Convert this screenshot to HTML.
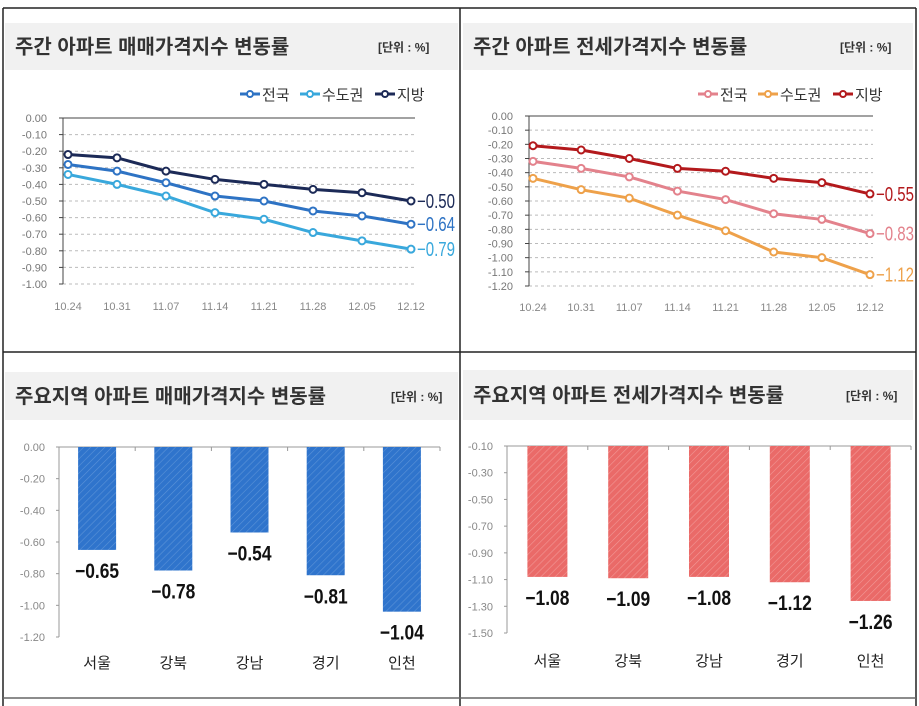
<!DOCTYPE html>
<html><head><meta charset="utf-8">
<style>
body{margin:0;width:919px;height:706px;background:#fff;overflow:hidden;font-family:"Liberation Sans","Noto Sans CJK KR",sans-serif;}
svg{position:absolute;left:0;top:0}
</style></head>
<body>
<svg id="s" width="919" height="706" font-family="Liberation Sans, Noto Sans CJK KR, sans-serif">
<defs>
<pattern id="hb" width="5" height="5" patternUnits="userSpaceOnUse" patternTransform="rotate(45)"><rect width="5" height="5" fill="#2f74cc"/><line x1="0" y1="0" x2="0" y2="5" stroke="#5b93d8" stroke-width="1.2"/></pattern>
<pattern id="hr" width="5" height="5" patternUnits="userSpaceOnUse" patternTransform="rotate(45)"><rect width="5" height="5" fill="#ea6a68"/><line x1="0" y1="0" x2="0" y2="5" stroke="#f29896" stroke-width="1.2"/></pattern>
</defs>
<g stroke="#222" stroke-width="1.5" fill="none">
<line x1="3" y1="8" x2="916" y2="8"/><line x1="3" y1="8" x2="3" y2="706"/><line x1="916" y1="8" x2="916" y2="706"/>
<line x1="460" y1="8" x2="460" y2="706"/><line x1="3" y1="352" x2="916" y2="352"/><line x1="3" y1="698" x2="916" y2="698" stroke="#666"/>
</g>
</svg>
<script>
const NS='http://www.w3.org/2000/svg';
const svg=document.getElementById('s');
function mk(tag,attrs,parent,text){const e=document.createElementNS(NS,tag);for(const k in attrs)e.setAttribute(k,attrs[k]);if(text!==undefined)e.textContent=text;(parent||svg).appendChild(e);return e;}

const weeks=['10.24','10.31','11.07','11.14','11.21','11.28','12.05','12.12'];
const saleNation=[-0.28,-0.32,-0.39,-0.47,-0.50,-0.56,-0.59,-0.64];
const saleCapital=[-0.34,-0.40,-0.47,-0.57,-0.61,-0.69,-0.74,-0.79];
const saleLocal=[-0.22,-0.24,-0.32,-0.37,-0.40,-0.43,-0.45,-0.50];
const saleTicks=[0,-0.1,-0.2,-0.3,-0.4,-0.5,-0.6,-0.7,-0.8,-0.9,-1.0];
const rentNation=[-0.32,-0.37,-0.43,-0.53,-0.59,-0.69,-0.73,-0.83];
const rentCapital=[-0.44,-0.52,-0.58,-0.70,-0.81,-0.96,-1.00,-1.12];
const rentLocal=[-0.21,-0.24,-0.30,-0.37,-0.39,-0.44,-0.47,-0.55];
const rentTicks=[0,-0.1,-0.2,-0.3,-0.4,-0.5,-0.6,-0.7,-0.8,-0.9,-1.0,-1.1,-1.2];
const regions=['서울','강북','강남','경기','인천'];
const regionSale=[-0.65,-0.78,-0.54,-0.81,-1.04];
const saleBarTicks=[0,-0.2,-0.4,-0.6,-0.8,-1.0,-1.2];
const regionRent=[-1.08,-1.09,-1.08,-1.12,-1.26];
const rentBarTicks=[-0.1,-0.3,-0.5,-0.7,-0.9,-1.1,-1.3,-1.5];

function header(x,w,y,h,title,unitX){
  const g=mk('g',{});
  
  
  mk('rect',{x:x,y:y,width:w,height:h,fill:'#f1f1f1'},g);
  const t=mk('text',{x:x+10,y:y+h/2+7,'font-size':20,'font-weight':'bold',fill:'#333'},g,title);
  
  
  const u=mk('text',{x:unitX,y:y+h/2+5,'font-size':12,'font-weight':'bold',fill:'#333'},g,'[단위 : %]');
  
  
}

function lineChart(o){
  const ys=v=>o.y0+(v-o.t0)/(o.t1-o.t0)*(o.y1-o.y0);
  const xs=i=>o.xa+i*(o.xb-o.xa)/(weeks.length-1);
  const g=mk('g',{});
  
  
  o.ticks.forEach((t,i)=>{
    const y=ys(t);
    if(i>0){const gl=mk('line',{x1:o.ax,y1:y,x2:o.xr,y2:y,stroke:'#bbb','stroke-dasharray':'3,3'},g);}
    mk('line',{x1:o.ax-4,y1:y,x2:o.ax,y2:y,stroke:'#444'},g);
    const l=mk('text',{x:o.ax-16,y:y+4,'font-size':11,fill:'#777','text-anchor':'end'},g,t===0?'0.00':t.toFixed(2));
    
    
  });
  mk('line',{x1:o.ax,y1:ys(o.t0),x2:o.xr,y2:ys(o.t0),stroke:'#444'},g);
  mk('line',{x1:o.ax,y1:ys(o.t0),x2:o.ax,y2:ys(o.t1),stroke:'#444'},g);
  weeks.forEach((w,i)=>{const l=mk('text',{x:xs(i),y:o.xly,'font-size':11,fill:'#888','text-anchor':'middle'},g,w);});
  o.series.forEach(s=>{
    const sg=mk('g',{},g);
    
    
    mk('polyline',{points:s.data.map((v,i)=>xs(i)+','+ys(v)).join(' '),fill:'none',stroke:s.c,'stroke-width':3},sg);
    s.data.forEach((v,i)=>{const p=mk('circle',{cx:xs(i),cy:ys(v),r:3.5,fill:'#fff',stroke:s.c,'stroke-width':2},sg);});
    const last=s.data[s.data.length-1];
    const el=mk('text',{x:xs(s.data.length-1)+6,y:ys(last)+7,'font-size':20,fill:s.c,textLength:38,lengthAdjust:'spacingAndGlyphs'},sg,last.toFixed(2).replace('-','−'));
    
    
  });
  let lx=o.legX;
  o.series.forEach(s=>{
    const lg=mk('g',{},g);
    
    
    mk('line',{x1:lx,y1:o.legY,x2:lx+20,y2:o.legY,stroke:s.c,'stroke-width':3},lg);
    mk('circle',{cx:lx+10,cy:o.legY,r:3,fill:'#fff',stroke:s.c,'stroke-width':2},lg);
    mk('text',{x:lx+22,y:o.legY+6,'font-size':15,fill:'#333'},lg,s.name);
    lx+=s.name.length*15+30;
  });
}

function barChart(o){
  const ys=v=>o.y0+(v-o.t0)/(o.t1-o.t0)*(o.y1-o.y0);
  const g=mk('g',{});
  
  
  o.ticks.forEach(t=>{
    const y=ys(t);
    mk('line',{x1:o.ax-3,y1:y,x2:o.ax,y2:y,stroke:'#999'},g);
    const l=mk('text',{x:o.ax-14,y:y+4,'font-size':11,fill:'#888','text-anchor':'end'},g,t===0?'0.00':t.toFixed(2));
    
    
  });
  mk('line',{x1:o.ax,y1:ys(o.t0),x2:o.ax,y2:ys(o.ticks[o.ticks.length-1]),stroke:'#999'},g);
  mk('line',{x1:o.ax,y1:ys(o.t0),x2:o.xr,y2:ys(o.t0),stroke:'#999'},g);
  const step=(o.xr-o.ax)/regions.length;
  for(let i=0;i<=regions.length;i++)mk('line',{x1:o.ax+i*step,y1:ys(o.t0),x2:o.ax+i*step,y2:ys(o.t0)+4,stroke:'#999'},g);
  regions.forEach((r,i)=>{
    const cx=o.ax+step*(i+0.5),v=o.data[i];
    const b=mk('rect',{x:cx-o.bw/2,y:ys(o.t0),width:o.bw,height:ys(v)-ys(o.t0),fill:o.fill},g);
    
    
    const vl=mk('text',{x:cx,y:ys(v)+28,'font-size':21,'font-weight':'bold',fill:'#111','text-anchor':'middle',textLength:44,lengthAdjust:'spacingAndGlyphs'},g,v.toFixed(2).replace('-','−'));
    
    
    const cl=mk('text',{x:cx,y:o.cly,'font-size':15,fill:'#222','text-anchor':'middle'},g,r);
    
    
  });
}

header(5,453,23,47,'주간 아파트 매매가격지수 변동률',378);
header(463,450,23,47,'주간 아파트 전세가격지수 변동률',840);
header(5,453,372,48,'주요지역 아파트 매매가격지수 변동률',391);
header(463,450,370,50,'주요지역 아파트 전세가격지수 변동률',846);

lineChart({ax:63,xr:415,xa:68,xb:411,t0:0,t1:-1.0,y0:118,y1:284,ticks:saleTicks,xly:310,legX:240,legY:94,
 series:[{key:'nation',name:'전국',data:saleNation,c:'#2e73c4'},{key:'capital',name:'수도권',data:saleCapital,c:'#39a8dc'},{key:'local',name:'지방',data:saleLocal,c:'#1c2a57'}]});
lineChart({ax:529,xr:873,xa:533,xb:870,t0:0,t1:-1.2,y0:116,y1:286,ticks:rentTicks,xly:311,legX:698,legY:94,
 series:[{key:'nation',name:'전국',data:rentNation,c:'#e3828c'},{key:'capital',name:'수도권',data:rentCapital,c:'#eea14a'},{key:'local',name:'지방',data:rentLocal,c:'#b3191c'}]});
barChart({ax:59,xr:440,t0:0,t1:-1.2,y0:447,y1:637,ticks:saleBarTicks,data:regionSale,bw:38,fill:'url(#hb)',cly:668});
barChart({ax:507,xr:911,t0:-0.1,t1:-1.5,y0:446,y1:633,ticks:rentBarTicks,data:regionRent,bw:40,fill:'url(#hr)',cly:666});
</script>
</body></html>
